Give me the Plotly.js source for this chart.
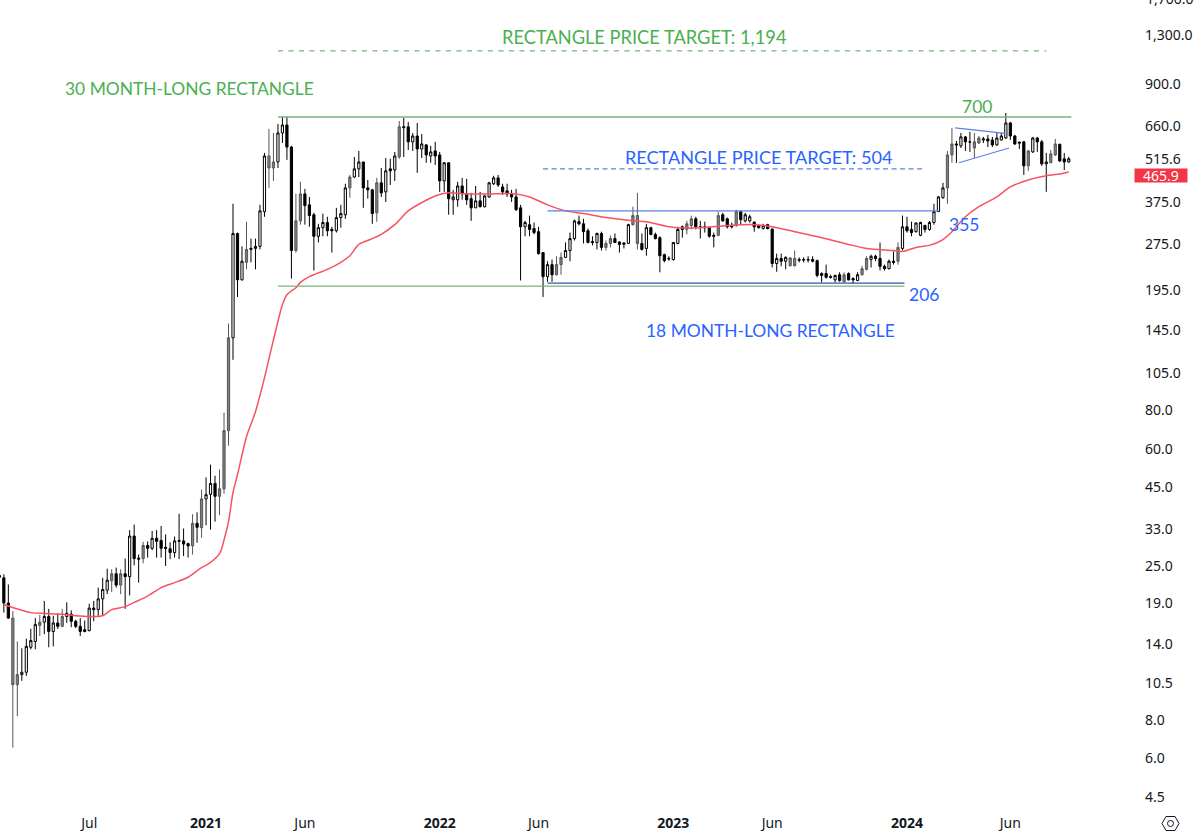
<!DOCTYPE html>
<html><head><meta charset="utf-8">
<script src="https://cdn.plot.ly/plotly-3.0.1.min.js"></script>
<style>html,body{margin:0;padding:0;background:#fff}#c{width:1200px;height:831px}</style>
</head><body><div id="c"></div>
<script>
// Weekly bars, first bar = week of 2020-02-17
const firstWeek = '2020-02-17';
const highs = [23.5,
23.4,21.7,17.8,14.2,13.5,14.5,15.6,16.9,17.3,19.2,
18.1,17.2,17.5,18.1,19.0,17.9,16.7,16.9,16.6,18.8,
19.2,21.2,22.8,24.4,24.3,24.6,24.3,26.3,32.5,33.9,
27.1,29.8,29.9,32.3,32.5,33.5,31.5,29.7,31.0,36.7,
32.9,29.6,36.6,37.1,43.9,48.1,52.9,48.7,51,77.8,
151,368,297,268,322,284,284,365,537,642,
623,666,702,702,566,396,433,411,387,344,
317,342,334,310,357,365,427,456,521,545,
502,439,411,446,480,517,514,541,681,697,
676,623,671,618,574,566,583,541,502,499,
408,433,446,443,399,420,402,393,433,453,
456,427,427,408,411,365,324,337,320,310,
256,240,243,249,256,276,297,327,337,329,
306,289,297,299,280,291,295,278,276,317,
360,399,295,317,310,297,289,254,249,276,
310,313,324,337,334,324,322,310,297,347,
344,332,320,352,349,344,339,322,315,317,
317,306,254,254,249,247,260,247,247,249,
249,243,221,234,217,217,221,221,221,213,
221,232,249,252,252,276,234,243,258,276,
337,334,322,320,322,315,324,368,390,430,
545,647,587,623,609,628,623,609,605,614,
605,623,623,723,676,614,583,587,549,605,
605,591,537,549,596,574,537,521];
const lows = [22.0,
17.6,16.8,6.45,8.15,10.6,11.0,13.4,13.4,14.8,15.0,
13.6,13.7,15.6,15.8,16.3,15.8,15.7,14.8,15.2,15.3,
16.5,17.2,17.2,20.2,20.5,21.2,20.2,18.1,20.0,25.0,
22.0,25.4,26.5,28.0,26.5,26.5,24.9,26.2,26.5,26.2,
26.8,26.5,27.1,29.6,30.7,33.7,32.6,34.6,36.3,42.6,
60.9,115.3,184,208,226,238,226,262,334,414,
436,480,578,510,211,256,315,315,310,224,
276,289,289,256,297,308,329,385,446,449,
357,382,317,322,387,373,423,436,514,521,
549,545,463,517,499,499,491,402,402,339,
339,360,379,365,324,357,358,358,385,423,
417,393,387,373,349,208,289,289,293,252,
184,206,206,216,217,246,240,280,313,274,
274,270,262,260,260,266,275,256,264,273,
313,262,260,250,291,282,221,238,241,241,
272,286,293,304,304,284,297,286,266,289,
322,306,306,310,315,320,320,299,306,304,
304,229,222,231,226,231,231,238,238,238,
238,213,205,211,211,205,206,205,208,203,
207,216,224,229,240,224,224,226,234,234,
260,297,289,297,289,297,301,315,346,382,
368,499,499,557,545,541,517,574,578,561,
561,566,590,596,591,570,553,456,470,537,
541,488,402,498,525,502,473,499];
const opens = [23.2,
22.8,18.9,16.9,10.3,11.1,11.3,13.6,14.2,16.0,16.4,
17.1,15.3,16.3,15.9,17.1,17.4,16.5,15.9,15.5,15.4,
18.2,18.0,19.5,20.8,22.3,23.5,21.6,23.5,23.0,31.1,
26.4,26.3,29.0,28.4,30.6,30.1,28.6,28.3,27.5,29.9,
30.0,29.4,28.9,34.2,33.1,41.0,42.4,46,41.8,44.2,
68.1,135.8,295,209,238,262,264,268,347,525,
480,502,623,661,561,260,324,396,365,339,
289,308,320,304,301,332,339,414,449,477,
502,414,408,344,430,402,477,473,521,648,
652,583,609,553,570,525,545,529,436,499,
379,379,420,396,382,357,376,360,387,427,
446,417,405,396,387,357,310,315,306,299,
256,214,234,217,234,247,260,284,322,317,
301,278,276,295,266,274,284,277,272,274,
315,337,274,264,308,293,286,252,244,243,
274,310,304,313,329,310,310,308,291,291,
339,329,313,313,347,324,324,321,313,306,
315,305,236,245,240,232,245,243,242,242,
243,241,219,219,214,209,217,206,219,211,
208,217,226,243,249,245,231,227,240,240,
264,310,304,299,291,313,304,320,347,385,
414,529,574,566,605,583,557,578,591,596,
591,570,591,600,671,609,582,583,488,541,
600,583,495,499,529,573,514,502];
const closes = [22.9,
18.9,16.9,10.3,11.1,11.3,13.7,14.3,16.1,16.4,17.1,
15.3,16.3,15.9,17.1,17.5,16.5,15.9,15.3,15.3,18.2,
18.0,19.5,20.9,22.4,23.5,21.6,23.5,23.0,31.1,26.3,
26.2,29.0,28.4,30.6,29.9,28.4,28.4,27.5,30.0,30.1,
29.3,28.9,34.2,33.2,41.0,42.3,46,41.8,44.2,68.1,
135.8,295,209,240,262,264,268,349,525,480,
502,623,661,561,260,324,396,363,337,289,
308,320,301,301,332,342,414,449,477,502,
414,408,342,430,399,470,470,525,652,652,
583,609,553,574,529,541,525,436,499,382,
387,420,396,379,357,376,360,390,430,446,
423,402,396,387,352,310,320,304,297,254,
214,234,217,234,247,260,284,324,317,299,
276,276,295,266,274,284,276,272,275,315,
337,274,262,308,293,284,250,241,245,276,
304,304,317,329,310,309,308,289,289,337,
324,310,310,347,327,339,334,310,308,313,
306,236,245,240,247,246,232,242,243,243,
240,216,216,213,213,216,208,217,209,209,
217,227,245,249,245,231,227,240,238,266,
310,301,297,319,320,304,320,347,387,414,
529,574,570,605,583,582,583,600,596,587,
570,600,609,671,609,574,578,488,545,600,
583,495,502,533,574,506,502,514];

// Bars that look soft grey in the picture (weeks counted from 2020-02-24)
const softBars = [2,3,8,13,24,26,31,42,44,48,49,50,54,59,60,65,66,77,83,88,123,124,134,135,140,141,152,153,159,163,175,176,187,191,192,199,210,211,216,217,228,233,234];

// Red moving average read at these weeks (counted from 2020-02-24)
const maWeeks = [0,6,9,13,16,19,22,24,27,29,32,35,38,41,44,45,48,49,50,51,52,54,56,58,60,62,63,65,66,68,72,75,77,79,82,84,87,90,93,96,99,103,108,114,117,121,125,129,134,140,143,148,150,155,161,167,171,176,182,188,192,198,200,203,206,209,211,214,217,221,224,228,232,235,237];
const maValues = [18.7,17.6,17.5,17.4,17.2,17.1,17.2,18.0,18.4,19.0,19.9,21.2,22.0,22.9,24.6,25.0,27.3,30.2,34.6,43.0,49.1,65.1,78.4,100.9,133.8,173.6,187,197,205,214,226,238,250,272,284,293,315,349,371,390,399,396,396,396,387,365,349,342,332,324,322,310,308,308,313,315,310,299,286,272,264,260,258,266,270,282,299,334,360,387,417,439,453,459,466];

// Levels and trendlines
const greenTop = {x:['2021-04-26','2024-09-13'], y:[702,702]};
const greenBottom = {x:['2021-04-26','2023-12-28'], y:[199.5,199.5]};
const greenTarget = {x:['2021-04-26','2024-08-05'], y:[1146,1146]};
const blueTop = {x:['2022-06-20','2024-02-19'], y:[349,349]};
const blueBottom = {x:['2022-06-20','2023-12-28'], y:[204,204]};
const blueTarget = {x:['2022-06-13','2024-01-28'], y:[477,477]};
const pennantUpper = {x:['2024-03-16','2024-06-02'], y:[647,621]};
const pennantLower = {x:['2024-03-22','2024-06-08'], y:[499,557]};

const xTickDates = ['2020-07-06','2021-01-04','2021-06-07','2022-01-03','2022-06-06','2023-01-02','2023-06-05','2024-01-01','2024-06-10'];
const xTickLabels = ['Jul','<b>2021</b>','Jun','<b>2022</b>','Jun','<b>2023</b>','Jun','<b>2024</b>','Jun'];
const yTickVals = [1300,900,660,515.6,375,275,195,145,105,80,60,45,33,25,19,14,10.5,8,6,4.5];
const yTickLabels = ['1,300.0','900.0','660.0','515.6','375.0','275.0','195.0','145.0','105.0','80.0','60.0','45.0','33.0','25.0','19.0','14.0','10.5','8.0','6.0','4.5'];

const DAY = 86400000;
const isoWeek = (start, n) => new Date(Date.parse(start + 'T00:00:00Z') + n * 7 * DAY).toISOString().slice(0, 10);
const weeks = highs.map((_, i) => isoWeek(firstWeek, i));
const maDates = maWeeks.map(k => isoWeek('2020-02-24', k));
const softIdx = new Set(softBars.map(k => k + 1));
const pick = (arr, soft) => arr.filter((_, i) => softIdx.has(i) === soft);

const GREEN = '#4caf50', BLUE = '#2962ff', RED = '#f23645', INK = '#131722';
const LINEGREEN = '#78b37c', LINEBLUE = '#5a80e6', LINEBLUE2 = '#2f55b5';
const W = 1200, H = 831, R = 60, B = 21;
const PW = W - R, PH = H - B;
const px = x => x / PW, py = y => (PH - y) / PH;

const lineTrace = (d, color, width, dash) => ({type:'scatter', mode:'lines', x:d.x, y:d.y, hoverinfo:'skip',
  line:{color:color, width:width, dash:dash || 'solid'}});
const candle = (soft, inc, dec) => ({type:'candlestick', x:pick(weeks, soft), open:pick(opens, soft), high:pick(highs, soft),
  low:pick(lows, soft), close:pick(closes, soft), whiskerwidth:0, hoverinfo:'skip', increasing:inc, decreasing:dec});

const softStyle = {line:{color:'#555', width:1}, fillcolor:'#808080'};
const traces = [
  candle(false, {line:{color:'#000', width:1}, fillcolor:'#fff'}, {line:{color:'#000', width:1}, fillcolor:'#000'}),
  candle(true, softStyle, softStyle),
  {type:'scatter', mode:'lines', x:maDates, y:maValues, hoverinfo:'skip', line:{color:'#f7525f', width:1.5, shape:'spline', smoothing:0.8}},
  lineTrace(greenTop, LINEGREEN, 1.5), lineTrace(greenBottom, LINEGREEN, 1.2), lineTrace(greenTarget, LINEGREEN, 1.2, '5px 5.5px'),
  lineTrace(blueTop, LINEBLUE, 1.3), lineTrace(blueBottom, LINEBLUE2, 1.2), lineTrace(blueTarget, LINEBLUE, 1.3, '5px 3.5px'),
  lineTrace(pennantUpper, LINEBLUE, 1.2), lineTrace(pennantLower, LINEBLUE, 1.2)
];

const note = (text, cx, cy, color, size) => ({text, xref:'paper', yref:'paper', x:px(cx), y:py(cy), xanchor:'center', yanchor:'middle',
  showarrow:false, font:{family:'Lato, "Noto Sans", sans-serif', size, color}});

const layout = {
  width:W, height:H, showlegend:false, paper_bgcolor:'#fff', plot_bgcolor:'#fff',
  margin:{l:0, r:R, t:0, b:B, pad:0},
  xaxis:{type:'date', range:['2020-02-18','2024-12-29'], rangeslider:{visible:false}, showgrid:false, zeroline:false, showline:false,
    tickmode:'array', tickvals:xTickDates, ticktext:xTickLabels, ticks:'', tickangle:0, ticklabelstandoff:3,
    tickfont:{family:'"Noto Sans", sans-serif', size:14, color:INK}},
  yaxis:{type:'log', side:'right', range:[Math.log10(4.057), Math.log10(1674)], showgrid:false, zeroline:false, showline:false,
    tickmode:'array', tickvals:yTickVals, ticktext:yTickLabels, ticks:'', ticklabelstandoff:4, ticklabelshift:1,
    tickfont:{family:'"Noto Sans", sans-serif', size:14, color:INK}},
  annotations:[
    note('RECTANGLE PRICE TARGET: 1,194', 644.5, 37, GREEN, 18.25),
    note('30 MONTH-LONG RECTANGLE', 189, 89, GREEN, 17.4),
    note('700', 977.5, 106, GREEN, 17.5),
    note('RECTANGLE PRICE TARGET: 504', 758, 157, BLUE, 18.1),
    note('355', 964, 224, BLUE, 17.5),
    note('206', 923.5, 294, BLUE, 17.5),
    note('18 MONTH-LONG RECTANGLE', 770.5, 330, BLUE, 17.4),
    {text:'465.9', xref:'paper', yref:'paper', x:px(1161), y:py(175.5), xanchor:'center', yanchor:'middle', showarrow:false,
      bgcolor:RED, width:52, height:13, borderpad:0, font:{family:'"Noto Sans", sans-serif', size:14, color:'#fff'}},
    {text:'1,700.0', xref:'paper', yref:'paper', x:px(1144), y:py(-1), xanchor:'left', yanchor:'middle', showarrow:false,
      font:{family:'"Noto Sans", sans-serif', size:14, color:INK}}
  ],
  shapes:[
    {type:'path', xref:'paper', yref:'paper', line:{color:INK, width:1}, fillcolor:'rgba(0,0,0,0)',
      path:`M ${px(1162)} ${py(823.5)} L ${px(1166)} ${py(816.5)} L ${px(1175)} ${py(816.5)} L ${px(1179)} ${py(823.5)} L ${px(1175)} ${py(830.5)} L ${px(1166)} ${py(830.5)} Z`},
    {type:'circle', xref:'paper', yref:'paper', line:{color:INK, width:1}, x0:px(1167.5), x1:px(1173.5), y0:py(820.5), y1:py(826.5)}
  ]
};
Plotly.newPlot('c', traces, layout, {displayModeBar:false, staticPlot:true});
</script></body></html>
